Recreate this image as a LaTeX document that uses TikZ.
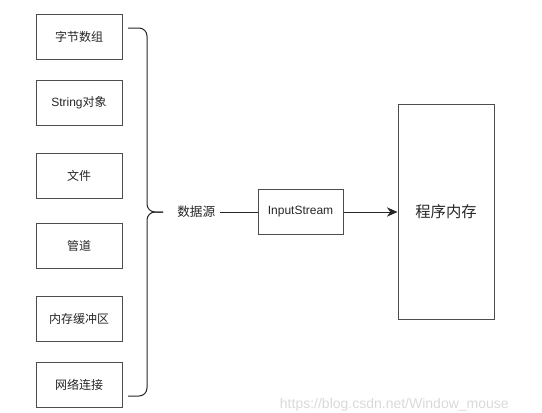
\documentclass[tikz,border=0pt]{standalone}
\usepackage{fontspec}
\setmainfont{Liberation Sans}
\newfontfamily\cjk{Noto Sans CJK SC}
\usetikzlibrary{positioning,arrows.meta}

\begin{document}
\begin{tikzpicture}[x=0.75pt,y=-0.75pt,
        box/.style = {
            draw=black!70,
            line width=0.75pt,
            text=black!85,
            align=center,
            minimum width=64.5pt,
            minimum height=33.75pt,
            font=\fontsize{9pt}{11pt}\selectfont
        },
        brace/.style = {draw=black!85, line width=0.75pt, rounded corners=6pt},
        node distance=18pt]
        \useasboundingbox (0,0) rectangle (542,412);

        \node[box] (bytes) at (79,36.5) {\cjk 字节数组};
        \node[box, below=15.3pt of bytes] (string) {String{\cjk 对象}};
        \node[box, below=20.6pt of string] (file) {\cjk 文件};
        \node[box, below=17.6pt of file] (pipe) {\cjk 管道};
        \node[box, below=20.2pt of pipe] (buffer) {\cjk 内存缓冲区};
        \node[box, below=15pt of buffer] (network) {\cjk 网络连接};

        \coordinate (tip) at (163,212);
        \draw[brace] (128,28) -| (147,212) -- (tip);
        \draw[brace] (128,396) -| (147,212) -- (tip);

        \node[right=7.5pt of tip, inner sep=3pt, text=black!85, font=\fontsize{9.5pt}{11pt}\selectfont] (source) {\cjk 数据源};
        \node[box, minimum width=63.75pt, right=28.5pt of source] (stream) {InputStream};
        \node[box, minimum width=72pt, minimum height=161.25pt, font=\fontsize{11.5pt}{14pt}\selectfont, right=40.5pt of stream] (memory) {\cjk 程序内存};

        \draw[black!85, line width=0.75pt] (source) -- (stream);
        \draw[black!85, line width=0.75pt, -{Stealth[length=8pt,width=7pt]}] (stream) -- (memory);

        \node[anchor=east, inner sep=0pt, text=black!15, font=\fontsize{10.5pt}{12pt}\selectfont] (watermark) at (509,405) {https://blog.csdn.net/Window\_mouse};
    \end{tikzpicture}
\end{document}
